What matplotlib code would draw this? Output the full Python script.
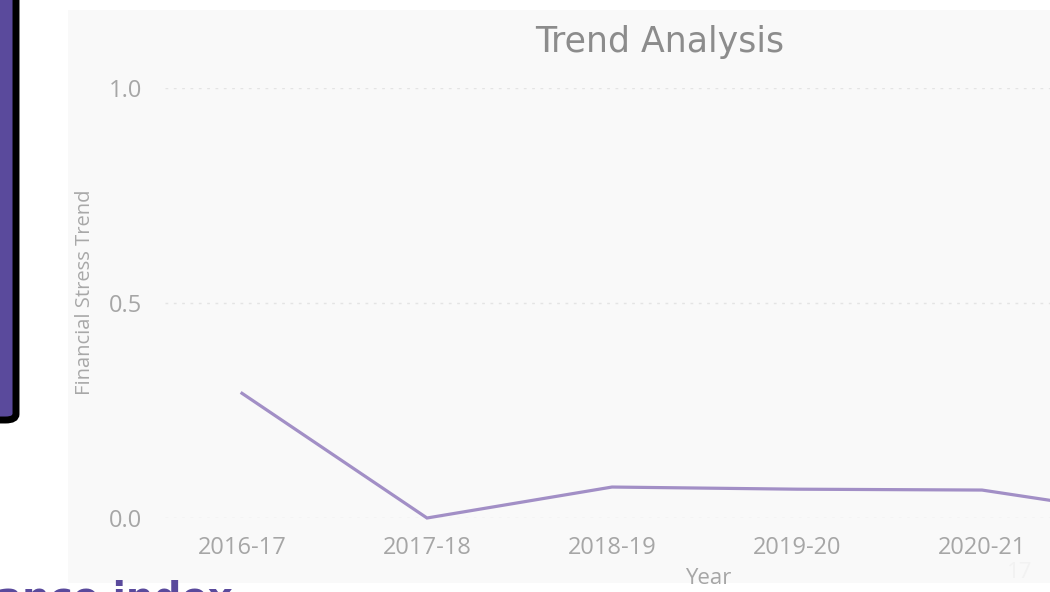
import matplotlib.pyplot as plt
from matplotlib.patches import Rectangle, FancyBboxPatch

# Data
years = ["2016-17", "2017-18", "2018-19", "2019-20", "2020-21", "2021-22"]
stress_trend = [0.29, 0.0, 0.072, 0.067, 0.065, 0.0]
y_ticks = [0.0, 0.5, 1.0]

W, H = 1050, 592
fig = plt.figure(figsize=(W / 100, H / 100), dpi=100)
fig.patch.set_facecolor("white")

# light report panel behind the visual
fig.patches.append(Rectangle((68 / W, (H - 583) / H), 1.0, (583 - 10) / H,
                             transform=fig.transFigure, facecolor="#f9f9f9",
                             edgecolor="none", zorder=-2))

# purple card with black border on the left
fig.patches.append(FancyBboxPatch((-30 / W, (H - 420) / H), 46 / W, 440 / H,
                                  boxstyle="round,pad=0,rounding_size=0.01",
                                  transform=fig.transFigure, facecolor="#5a4a9c",
                                  edgecolor="black", linewidth=5, zorder=-1))

ax = fig.add_axes([165 / W, (H - 518) / H, (W - 165) / W, 430 / H])
ax.set_facecolor("none")
ax.set_zorder(2)

x = list(range(len(years)))
ax.plot(x, stress_trend, color="#a28fc6", linewidth=2.3, clip_on=False,
        solid_joinstyle="miter", zorder=3)

ax.set_xlim(-(242 - 165) / 185, (W - 242) / 185)
ax.set_ylim(0, 1)
ax.set_xticks(x[:5])
ax.set_xticklabels(years[:5])
ax.set_yticks(y_ticks)
ax.set_yticklabels(["0.0", "0.5", "1.0"])

for s in ax.spines.values():
    s.set_visible(False)
ax.tick_params(length=0, colors="#a6a6a6", labelsize=17)
ax.tick_params(axis="y", pad=16.5)
ax.tick_params(axis="x", pad=13)
for lab in ax.get_xticklabels() + ax.get_yticklabels():
    lab.set_family("Open Sans")
ax.grid(axis="y", color="#e4e4e4", linestyle=(0, (2, 4)), linewidth=1)
ax.set_axisbelow(True)

fig.text(660 / W, 1 - 52 / H, "Trend Analysis", ha="center", va="baseline",
         fontsize=25, color="#8c8c8c", family="DejaVu Sans")
fig.text(85 / W, 1 - 292 / H, "Financial Stress Trend", rotation=90,
         ha="center", va="center", fontsize=14.5, color="#a8a8a8",
         family="Open Sans")
fig.text(708 / W, 1 - 578 / H, "Year", ha="center", va="center",
         fontsize=16, color="#a6a6a6", family="Open Sans")
fig.text(1020 / W, 1 - 573 / H, "17", ha="center", va="center",
         fontsize=16, color="#f2f2f2", family="Open Sans")

# slide heading cut off at the bottom edge
fig.text(-4 / W, 1 - 610 / H, "ance index", ha="left", va="baseline",
         fontsize=28, fontweight="bold", color="#5a4a9c", family="DejaVu Sans")

plt.savefig("out.png", dpi=100)
